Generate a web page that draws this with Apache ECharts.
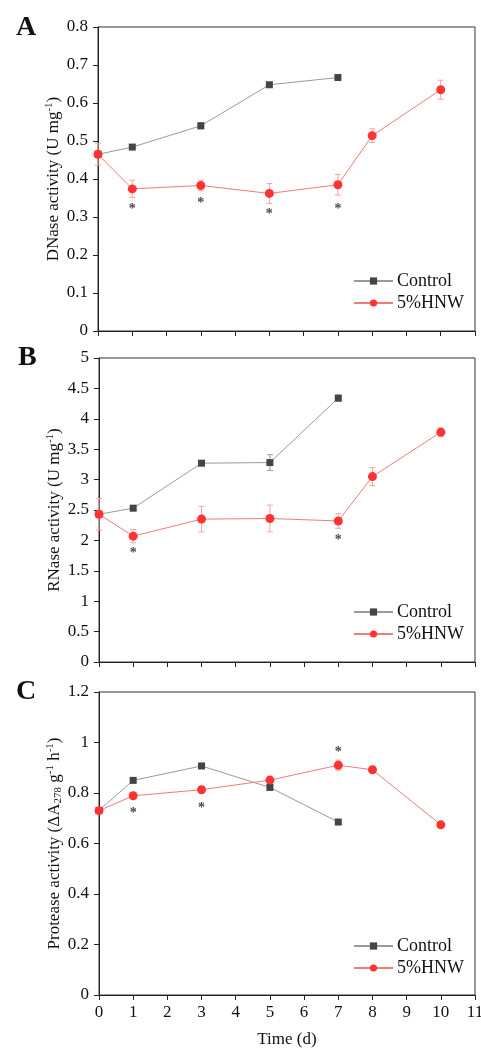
<!DOCTYPE html>
<html>
<head>
<meta charset="utf-8">
<title>Enzyme activity</title>
<script src="https://cdn.jsdelivr.net/npm/echarts@6/dist/echarts.min.js"></script>
<style>
  html, body { margin: 0; padding: 0; background: #fff; }
  #main { width: 481px; height: 1049px; }
</style>
</head>
<body>
<div id="main"></div>
<script>
// sampling days
var ctrlDays = [0, 1, 3, 5, 7];
var hnwDays = [0, 1, 3, 5, 7, 8, 10];

// A - DNase
var dnaseCtrl = [0.465, 0.484, 0.540, 0.648, 0.667];
var dnaseCtrlErr = [0.005, 0.004, 0.008, 0.005, 0.004];
var dnaseHnw = [0.465, 0.374, 0.383, 0.362, 0.385, 0.514, 0.635];
var dnaseHnwErr = [0.028, 0.023, 0.014, 0.026, 0.027, 0.018, 0.025];
var dnaseStarX = [1, 3, 5, 7];
var dnaseStarY = [0.327, 0.344, 0.316, 0.327];

// B - RNase
var rnaseCtrl = [2.43, 2.53, 3.27, 3.28, 4.34];
var rnaseCtrlErr = [0.03, 0.04, 0.03, 0.13, 0.05];
var rnaseHnw = [2.43, 2.07, 2.35, 2.36, 2.32, 3.05, 3.78];
var rnaseHnwErr = [0.26, 0.11, 0.21, 0.22, 0.12, 0.15, 0.07];
var rnaseStarX = [1, 7];
var rnaseStarY = [1.83, 2.05];

// C - Protease
var protCtrl = [0.731, 0.850, 0.907, 0.822, 0.685];
var protCtrlErr = [0.005, 0.008, 0.008, 0.008, 0.008];
var protHnw = [0.730, 0.789, 0.813, 0.851, 0.910, 0.892, 0.674];
var protHnwErr = [0.010, 0.010, 0.010, 0.010, 0.020, 0.010, 0.008];
var protStarX = [1, 3, 7];
var protStarY = [0.731, 0.751, 0.974];

var FONT = 'Liberation Serif';
var CTRL_LINE = '#9a9a9a', CTRL_MARK = '#444444', CTRL_ERR = '#9a9a9a';
var HNW_LINE = '#f27a7a', HNW_MARK = '#ff3333', HNW_ERR = '#f5a3a3';

var zip = function (xs, ys) {
  return xs.map(function (x, i) { return [x, ys[i]]; });
};
var zipErr = function (xs, ys, es) {
  return xs.map(function (x, i) { return [x, ys[i] - es[i], ys[i] + es[i]]; });
};

// error bars: vertical whisker + caps
var errSeries = function (idx, data, color) {
  return {
    type: 'custom',
    xAxisIndex: idx, yAxisIndex: idx,
    silent: true,
    z: 1,
    data: data,
    renderItem: function (params, api) {
      var x = api.value(0);
      var lo = api.coord([x, api.value(1)]);
      var hi = api.coord([x, api.value(2)]);
      var w = 3;
      var st = { stroke: color, lineWidth: 1 };
      return {
        type: 'group',
        children: [
          { type: 'line', shape: { x1: lo[0], y1: lo[1], x2: hi[0], y2: hi[1] }, style: st },
          { type: 'line', shape: { x1: lo[0] - w, y1: lo[1], x2: lo[0] + w, y2: lo[1] }, style: st },
          { type: 'line', shape: { x1: hi[0] - w, y1: hi[1], x2: hi[0] + w, y2: hi[1] }, style: st }
        ]
      };
    }
  };
};

var lineSeries = function (idx, name, data, lineColor, markColor, symbol, size) {
  return {
    type: 'line', name: name,
    xAxisIndex: idx, yAxisIndex: idx,
    data: data,
    symbol: symbol, symbolSize: size,
    showAllSymbol: true,
    z: 3,
    lineStyle: { color: lineColor, width: 1 },
    itemStyle: { color: markColor },
    emphasis: { disabled: true }
  };
};

// significance asterisks
var starSeries = function (idx, xs, ys) {
  return {
    type: 'scatter',
    xAxisIndex: idx, yAxisIndex: idx,
    data: zip(xs, ys),
    symbol: 'circle', symbolSize: 1,
    itemStyle: { color: 'rgba(0,0,0,0)' },
    silent: true,
    label: {
      show: true, position: 'inside', formatter: '*',
      fontFamily: FONT, fontSize: 14, fontWeight: 'bold', color: '#111',
      offset: [0, 3]
    }
  };
};

var grids = [
  { left: 98, top: 27, width: 377, height: 304 },
  { left: 99, top: 358, width: 376, height: 304 },
  { left: 99, top: 692, width: 376, height: 303 }
].map(function (g) {
  g.show = true; g.borderColor = '#333'; g.borderWidth = 1;
  g.backgroundColor = 'transparent';
  g.containLabel = false;
  g.outerBoundsMode = 'none';
  return g;
});

var xAxes = [0, 1, 2].map(function (i) {
  return {
    type: 'value', gridIndex: i, min: 0, max: 11, interval: 1,
    axisLine: { lineStyle: { color: '#222', width: 1 } },
    axisTick: { show: true, inside: false, length: 5, lineStyle: { color: '#222' } },
    splitLine: { show: false },
    axisLabel: {
      show: i === 2, margin: 9, fontFamily: FONT, fontSize: 17, color: '#111',
      showMaxLabel: true, hideOverlap: false
    },
    name: i === 2 ? 'Time (d)' : '',
    nameLocation: 'middle', nameGap: 36,
    nameTextStyle: { fontFamily: FONT, fontSize: 17, color: '#111' }
  };
});

var richName = {
  sup: { fontFamily: FONT, fontSize: 11, color: '#111', padding: [0, 0, 8, 0] },
  sub: { fontFamily: FONT, fontSize: 11, color: '#111', padding: [7, 0, 0, 0] }
};

var yCfg = [
  { min: 0, max: 0.8, interval: 0.1, name: 'DNase activity (U mg{sup|-1})' },
  { min: 0, max: 5, interval: 0.5, name: 'RNase activity (U mg{sup|-1})' },
  { min: 0, max: 1.2, interval: 0.2, name: 'Protease activity (ΔA{sub|278} g{sup|-1} h{sup|-1})' }
];
var yAxes = yCfg.map(function (c, i) {
  return {
    type: 'value', gridIndex: i, min: c.min, max: c.max, interval: c.interval,
    axisLine: { show: true, lineStyle: { color: '#222', width: 1 } },
    axisTick: { show: true, inside: false, length: 5, lineStyle: { color: '#222' } },
    splitLine: { show: false },
    axisLabel: {
      margin: 10, fontFamily: FONT, fontSize: 17, color: '#111',
      formatter: function (v) { return String(Math.round(v * 10) / 10); }
    },
    name: c.name, nameLocation: 'middle', nameGap: 35,
    nameMoveOverlap: false,
    nameTextStyle: { fontFamily: FONT, fontSize: 17, color: '#111', rich: richName }
  };
});

var legendTops = [272, 603, 937];
var legends = legendTops.map(function (t) {
  return {
    orient: 'vertical', left: 353, top: t, padding: 0,
    itemWidth: 39, itemHeight: 9, itemGap: 4,
    selectedMode: false,
    data: ['Control', '5%HNW'],
    textStyle: { fontFamily: FONT, fontSize: 18, color: '#111', padding: [0, 0, 0, -1] }
  };
});

var panelData = [
  [dnaseCtrl, dnaseCtrlErr, dnaseHnw, dnaseHnwErr, dnaseStarX, dnaseStarY],
  [rnaseCtrl, rnaseCtrlErr, rnaseHnw, rnaseHnwErr, rnaseStarX, rnaseStarY],
  [protCtrl, protCtrlErr, protHnw, protHnwErr, protStarX, protStarY]
];
var series = [];
panelData.forEach(function (p, i) {
  series.push(errSeries(i, zipErr(ctrlDays, p[0], p[1]), CTRL_ERR));
  series.push(errSeries(i, zipErr(hnwDays, p[2], p[3]), HNW_ERR));
  series.push(lineSeries(i, 'Control', zip(ctrlDays, p[0]), CTRL_LINE, CTRL_MARK, 'rect', 7));
  series.push(lineSeries(i, '5%HNW', zip(hnwDays, p[2]), HNW_LINE, HNW_MARK, 'circle', 9));
  series.push(starSeries(i, p[4], p[5]));
});

var letter = function (txt, x, y) {
  return {
    type: 'text', left: x, top: y,
    style: { text: txt, font: 'bold 28px "Liberation Serif"', fill: '#111' }
  };
};

var chart = echarts.init(document.getElementById('main'), null, { renderer: 'canvas' });
chart.setOption({
  animation: false,
  backgroundColor: '#fff',
  grid: grids,
  xAxis: xAxes,
  yAxis: yAxes,
  legend: legends,
  graphic: [letter('A', 16, 14), letter('B', 18, 344), letter('C', 16, 678)],
  series: series
});
</script>
</body>
</html>
